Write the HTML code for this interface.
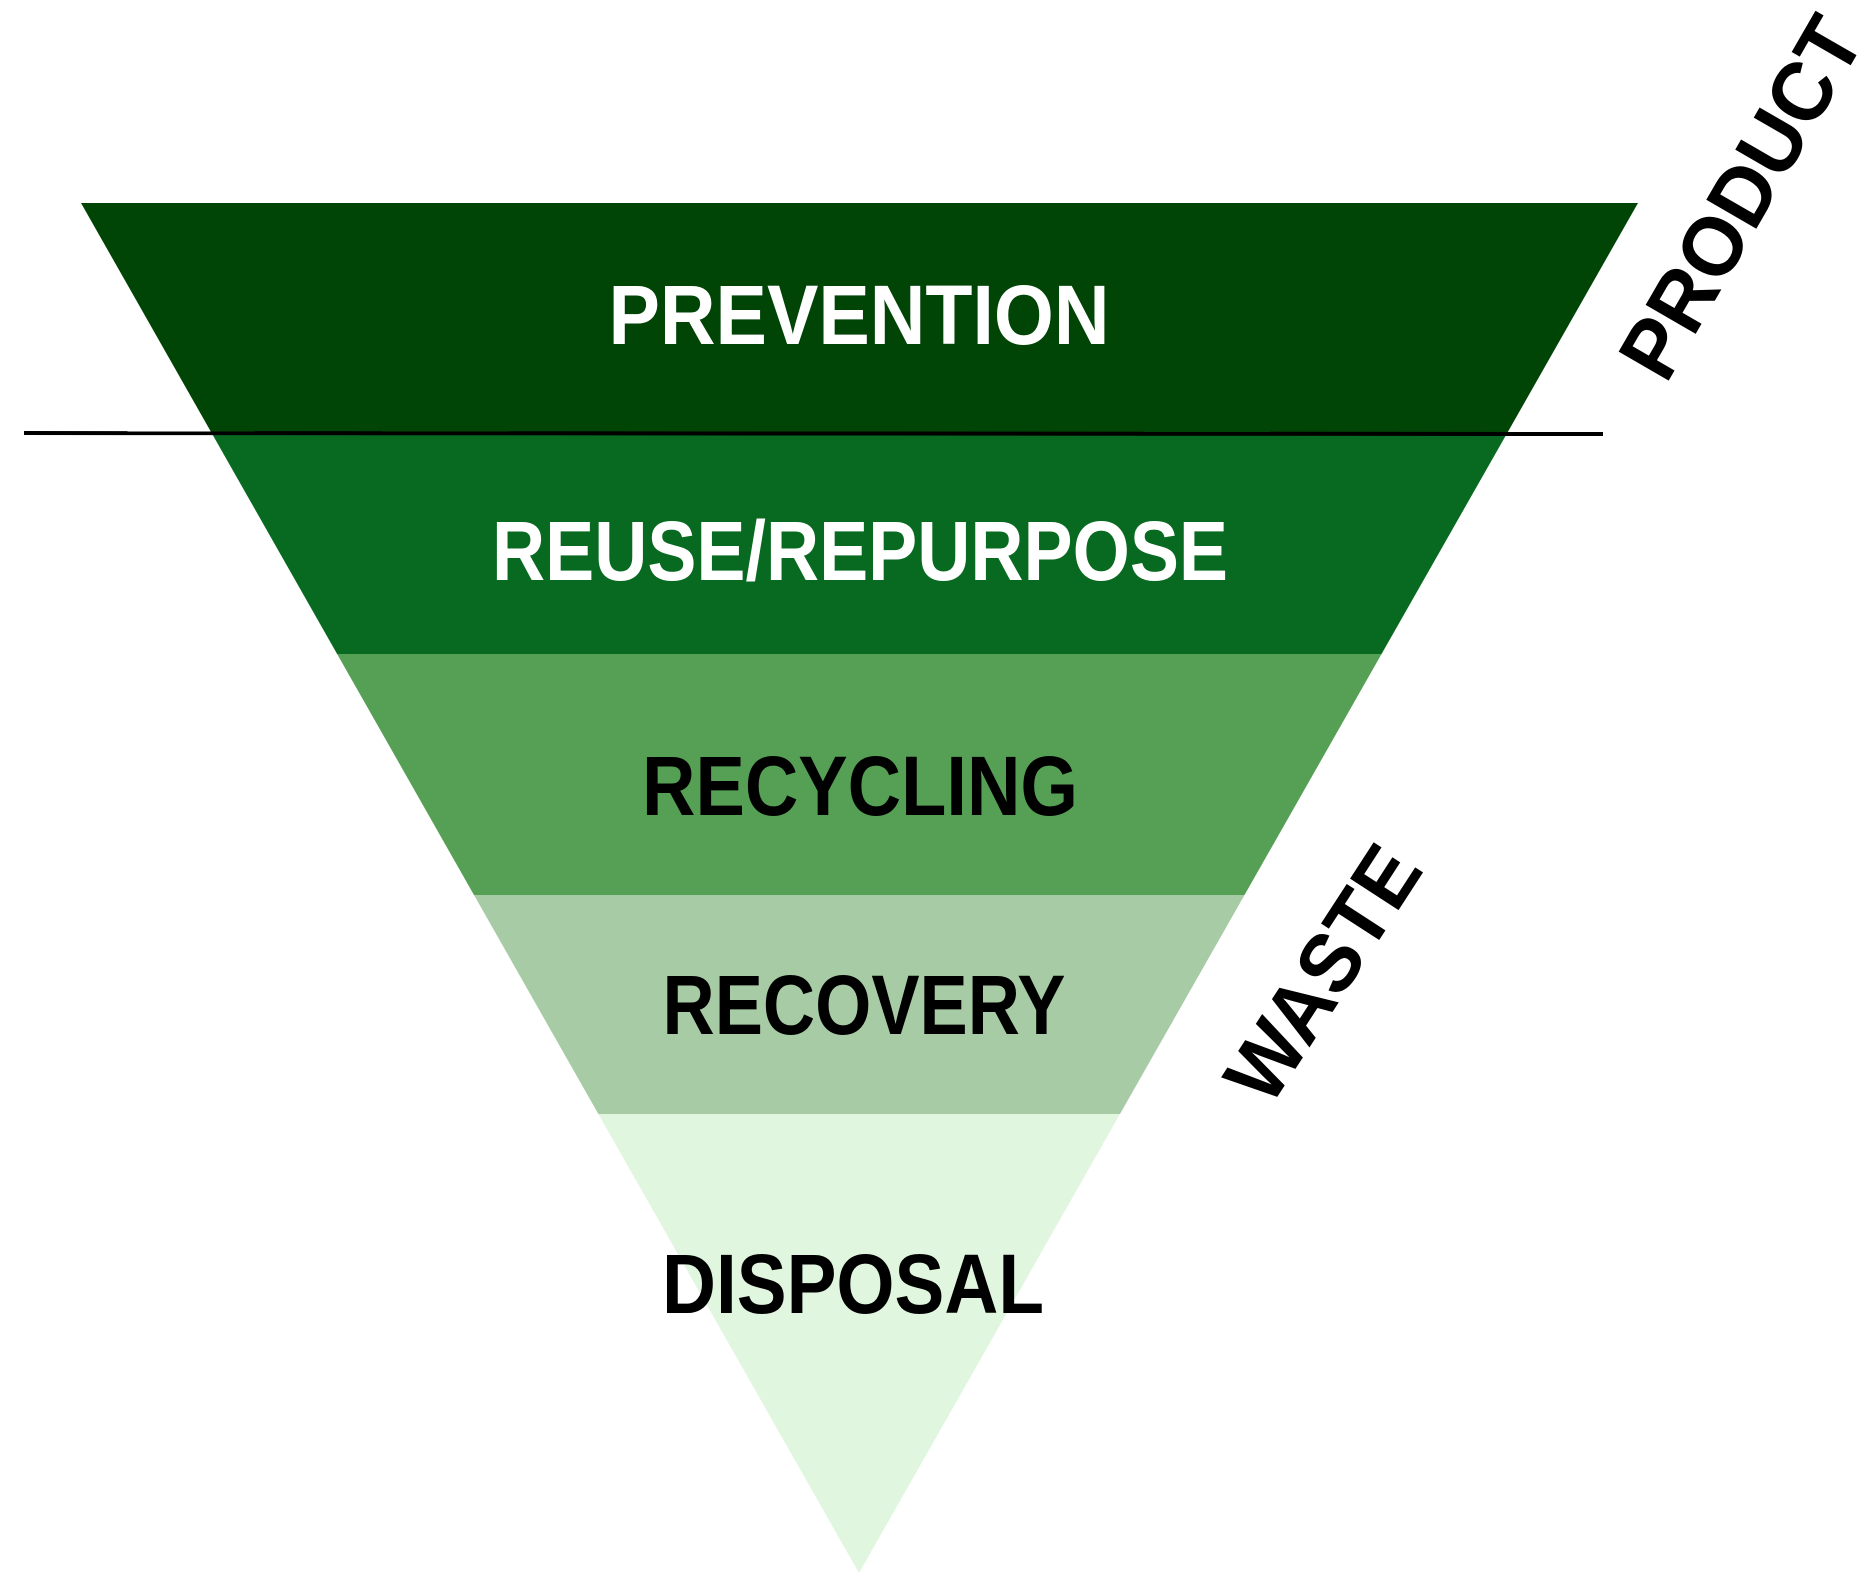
<!DOCTYPE html>
<html><head><meta charset="utf-8"><style>html,body{margin:0;padding:0;background:#fff}svg{display:block}</style></head>
<body>
<svg width="1862" height="1579" viewBox="0 0 1862 1579" xmlns="http://www.w3.org/2000/svg">
<defs><clipPath id="tri"><polygon points="81,203 1638,203 859,1573"/></clipPath></defs>
<g clip-path="url(#tri)">
<rect x="0" y="203" width="1862" height="229" fill="#004406"/>
<rect x="0" y="432" width="1862" height="222" fill="#086a20"/>
<rect x="0" y="654" width="1862" height="241" fill="#56a055"/>
<rect x="0" y="895" width="1862" height="219" fill="#a7cba4"/>
<rect x="0" y="1114" width="1862" height="470" fill="#e0f6de"/>
</g>
<line x1="24" y1="433" x2="1603" y2="434" stroke="#000" stroke-width="4"/>
<g font-family="Liberation Sans, DejaVu Sans, sans-serif" font-weight="bold" font-size="84" text-anchor="middle">
<text x="859" y="344" fill="#fff" textLength="501" lengthAdjust="spacingAndGlyphs">PREVENTION</text>
<text x="860" y="580" fill="#fff" textLength="736" lengthAdjust="spacingAndGlyphs">REUSE/REPURPOSE</text>
<text x="860" y="815" fill="#000" textLength="436" lengthAdjust="spacingAndGlyphs">RECYCLING</text>
<text x="864" y="1034" fill="#000" textLength="403" lengthAdjust="spacingAndGlyphs">RECOVERY</text>
<text x="853" y="1313" fill="#000" textLength="382" lengthAdjust="spacingAndGlyphs">DISPOSAL</text>
<text transform="translate(1740,197) rotate(-60)" y="30" fill="#000" textLength="400" lengthAdjust="spacingAndGlyphs">PRODUCT</text>
<text transform="translate(1322,973) rotate(-57)" y="30" fill="#000" textLength="285" lengthAdjust="spacingAndGlyphs">WASTE</text>
</g>
</svg>
</body></html>
